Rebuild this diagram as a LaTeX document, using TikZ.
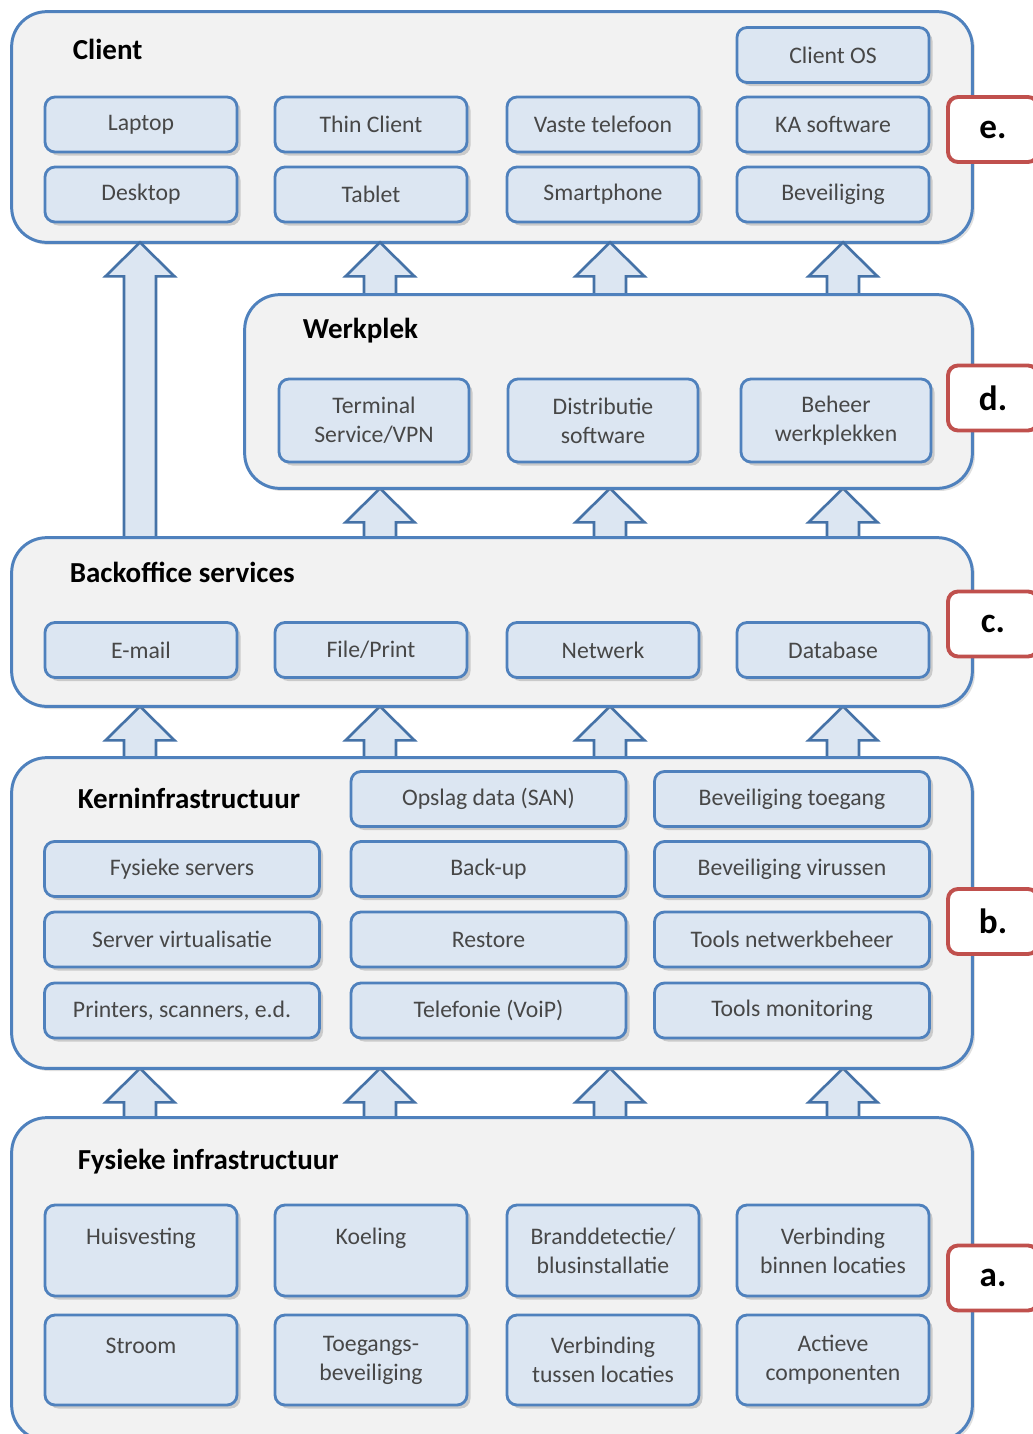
\documentclass[tikz,border=0pt]{standalone}
\usepackage{fontspec}
\setmainfont{Carlito}
\usepackage{tikz}
\usetikzlibrary{calc, shadows}

% one block arrow pointing up, from the lower layer (#2) to the upper layer (#3)
\newcommand{\upblock}[3]{%
	\coordinate (tail) at (#1,0 |- #2.north);
	\coordinate (tip) at (#1,0 |- #3.south);
	\draw[blk] ($(tail)+(-0.32,0)$) -- ($(tip)+(-0.32,-0.68)$) -- ($(tip)+(-0.69,-0.68)$) -- (tip)
		-- ($(tip)+(0.69,-0.68)$) -- ($(tip)+(0.32,-0.68)$) -- ($(tail)+(0.32,0)$) -- cycle;
}

\begin{document}
\begin{tikzpicture}[
		layer/.style={rounded corners=0.7cm, draw=boxline, fill=layerfill, line width=1.7pt,
			drop shadow={shadow xshift=1.5pt, shadow yshift=-1.5pt, opacity=0.25}},
		item/.style={rounded corners=0.2cm, draw=boxline, fill=itemfill, line width=1.6pt,
			font=\fontsize{13.5}{16.5}\selectfont, text=black!72, align=center,
			minimum width=#1, minimum height=1.1cm,
			drop shadow={shadow xshift=2pt, shadow yshift=-2pt, opacity=0.35}},
		item/.default=3.84cm,
		ttl/.style={font=\fontsize{16.5}{19}\selectfont\bfseries, anchor=west},
		tag/.style={rounded corners=0.2cm, draw=tagline, fill=white, line width=2.2pt,
			minimum width=1.8cm, minimum height=1.3cm, font=\fontsize{20}{24}\selectfont\bfseries},
		blk/.style={draw=arrowline, fill=itemfill, line width=1.5pt, line join=miter}
		]
		\definecolor{boxline}{HTML}{4F81BD}
		\definecolor{arrowline}{HTML}{4572A7}
		\definecolor{layerfill}{HTML}{F2F2F2}
		\definecolor{itemfill}{HTML}{DCE6F2}
		\definecolor{tagline}{HTML}{C0504D}
		
		\useasboundingbox (0,0) rectangle (20.66,-28.68);
		
		% Layers (outlines first, items later)
		\node[minimum width=19.2cm, minimum height=4.6cm] (client) at (9.84,-2.54) {};
		\node[minimum width=14.54cm, minimum height=3.86cm] (werk) at (12.17,-7.83) {};
		\node[minimum width=19.2cm, minimum height=3.36cm] (back) at (9.84,-12.44) {};
		\node[minimum width=19.2cm, minimum height=6.2cm] (kern) at (9.84,-18.26) {};
		\node[minimum width=19.2cm, minimum height=6.44cm] (fys) at (9.84,-25.58) {};
		\path[layer] (client.north west) rectangle (client.south east);
		
		% Block arrows
		\upblock{2.8}{back}{client}
		\foreach \x in {7.6, 12.2, 16.86} {
			\upblock{\x}{werk}{client}
			\upblock{\x}{back}{werk}
		}
		\foreach \x in {2.8, 7.6, 12.2, 16.86} {
			\upblock{\x}{kern}{back}
			\upblock{\x}{fys}{kern}
		}
		
		\path[layer] (werk.north west) rectangle (werk.south east);
		\path[layer] (back.north west) rectangle (back.south east);
		\path[layer] (kern.north west) rectangle (kern.south east);
		\path[layer] (fys.north west) rectangle (fys.south east);
		
		% e. Client
		\node[ttl] at ([xshift=1.1cm, yshift=-0.76cm]client.north west) {Client};
		\node[item] (cos) at (16.66,-1.1) {Client OS};
		\node[item] (laptop) at (2.82,-2.49) {Laptop};
		\node[item] (thin) at (7.42,-2.49) {Thin Client};
		\node[item] (vast) at (12.06,-2.49) {Vaste telefoon};
		\node[item] (ka) at (16.66,-2.49) {KA software};
		\node[item] (desktop) at (2.82,-3.89) {Desktop};
		\node[item] (tablet) at (7.42,-3.89) {Tablet};
		\node[item] (smart) at (12.06,-3.89) {Smartphone};
		\node[item] (bevcl) at (16.66,-3.89) {Beveiliging};
		
		% d. Werkplek
		\node[ttl] at ([xshift=1.04cm, yshift=-0.72cm]werk.north west) {Werkplek};
		\node[item=3.8cm, minimum height=1.66cm] (term) at (7.48,-8.41) {Terminal\\Service/VPN};
		\node[item=3.8cm, minimum height=1.66cm] (distr) at (12.06,-8.41) {Distributie\\software};
		\node[item=3.8cm, minimum height=1.66cm] (beheer) at (16.72,-8.41) {Beheer\\werkplekken};
		
		% c. Backoffice services
		\node[ttl] at ([xshift=1.04cm, yshift=-0.7cm]back.north west) {Backoffice services};
		\node[item] (mail) at (2.82,-13.0) {E-mail};
		\node[item] (file) at (7.42,-13.0) {File/Print};
		\node[item] (netw) at (12.06,-13.0) {Netwerk};
		\node[item] (db) at (16.66,-13.0) {Database};
		
		% b. Kerninfrastructuur
		\node[ttl] at ([xshift=1.2cm, yshift=-0.82cm]kern.north west) {Kerninfrastructuur};
		\node[item=5.5cm] (opslag) at (9.77,-15.98) {Opslag data (SAN)};
		\node[item=5.5cm] (toeg) at (15.84,-15.98) {Beveiliging toegang};
		\node[item=5.5cm] (servers) at (3.64,-17.38) {Fysieke servers};
		\node[item=5.5cm] (backup) at (9.77,-17.38) {Back-up};
		\node[item=5.5cm] (virus) at (15.84,-17.38) {Beveiliging virussen};
		\node[item=5.5cm] (virt) at (3.64,-18.79) {Server virtualisatie};
		\node[item=5.5cm] (restore) at (9.77,-18.79) {Restore};
		\node[item=5.5cm] (netbeh) at (15.84,-18.79) {Tools netwerkbeheer};
		\node[item=5.5cm] (printers) at (3.64,-20.21) {Printers, scanners, e.d.};
		\node[item=5.5cm] (voip) at (9.77,-20.21) {Telefonie (VoiP)};
		\node[item=5.5cm] (monit) at (15.84,-20.21) {Tools monitoring};
		
		% a. Fysieke infrastructuur
		\node[ttl] at ([xshift=1.2cm, yshift=-0.88cm]fys.north west) {Fysieke infrastructuur};
		\node[item, minimum height=1.82cm] (huis) at (2.82,-25.01) {Huisvesting\\~};
		\node[item, minimum height=1.82cm] (koel) at (7.42,-25.01) {Koeling\\~};
		\node[item, minimum height=1.82cm] (brand) at (12.06,-25.01) {Branddetectie/\\blusinstallatie};
		\node[item, minimum height=1.82cm] (binnen) at (16.66,-25.01) {Verbinding\\binnen locaties};
		\node[item, minimum height=1.8cm] (stroom) at (2.82,-27.2) {Stroom\\~};
		\node[item, minimum height=1.8cm] (toegbev) at (7.42,-27.2) {Toegangs-\\beveiliging};
		\node[item, minimum height=1.8cm] (tussen) at (12.06,-27.2) {Verbinding\\tussen locaties};
		\node[item, minimum height=1.8cm] (actief) at (16.66,-27.2) {Actieve\\componenten};
		
		% Tags
		\node[tag] (tage) at (19.86,-2.59) {e.};
		\node[tag] (tagd) at (19.86,-7.96) {d.};
		\node[tag] (tagc) at (19.86,-12.48) {c.};
		\node[tag] (tagb) at (19.86,-18.43) {b.};
		\node[tag] (taga) at (19.86,-25.56) {a.};
		
	\end{tikzpicture}
\end{document}
